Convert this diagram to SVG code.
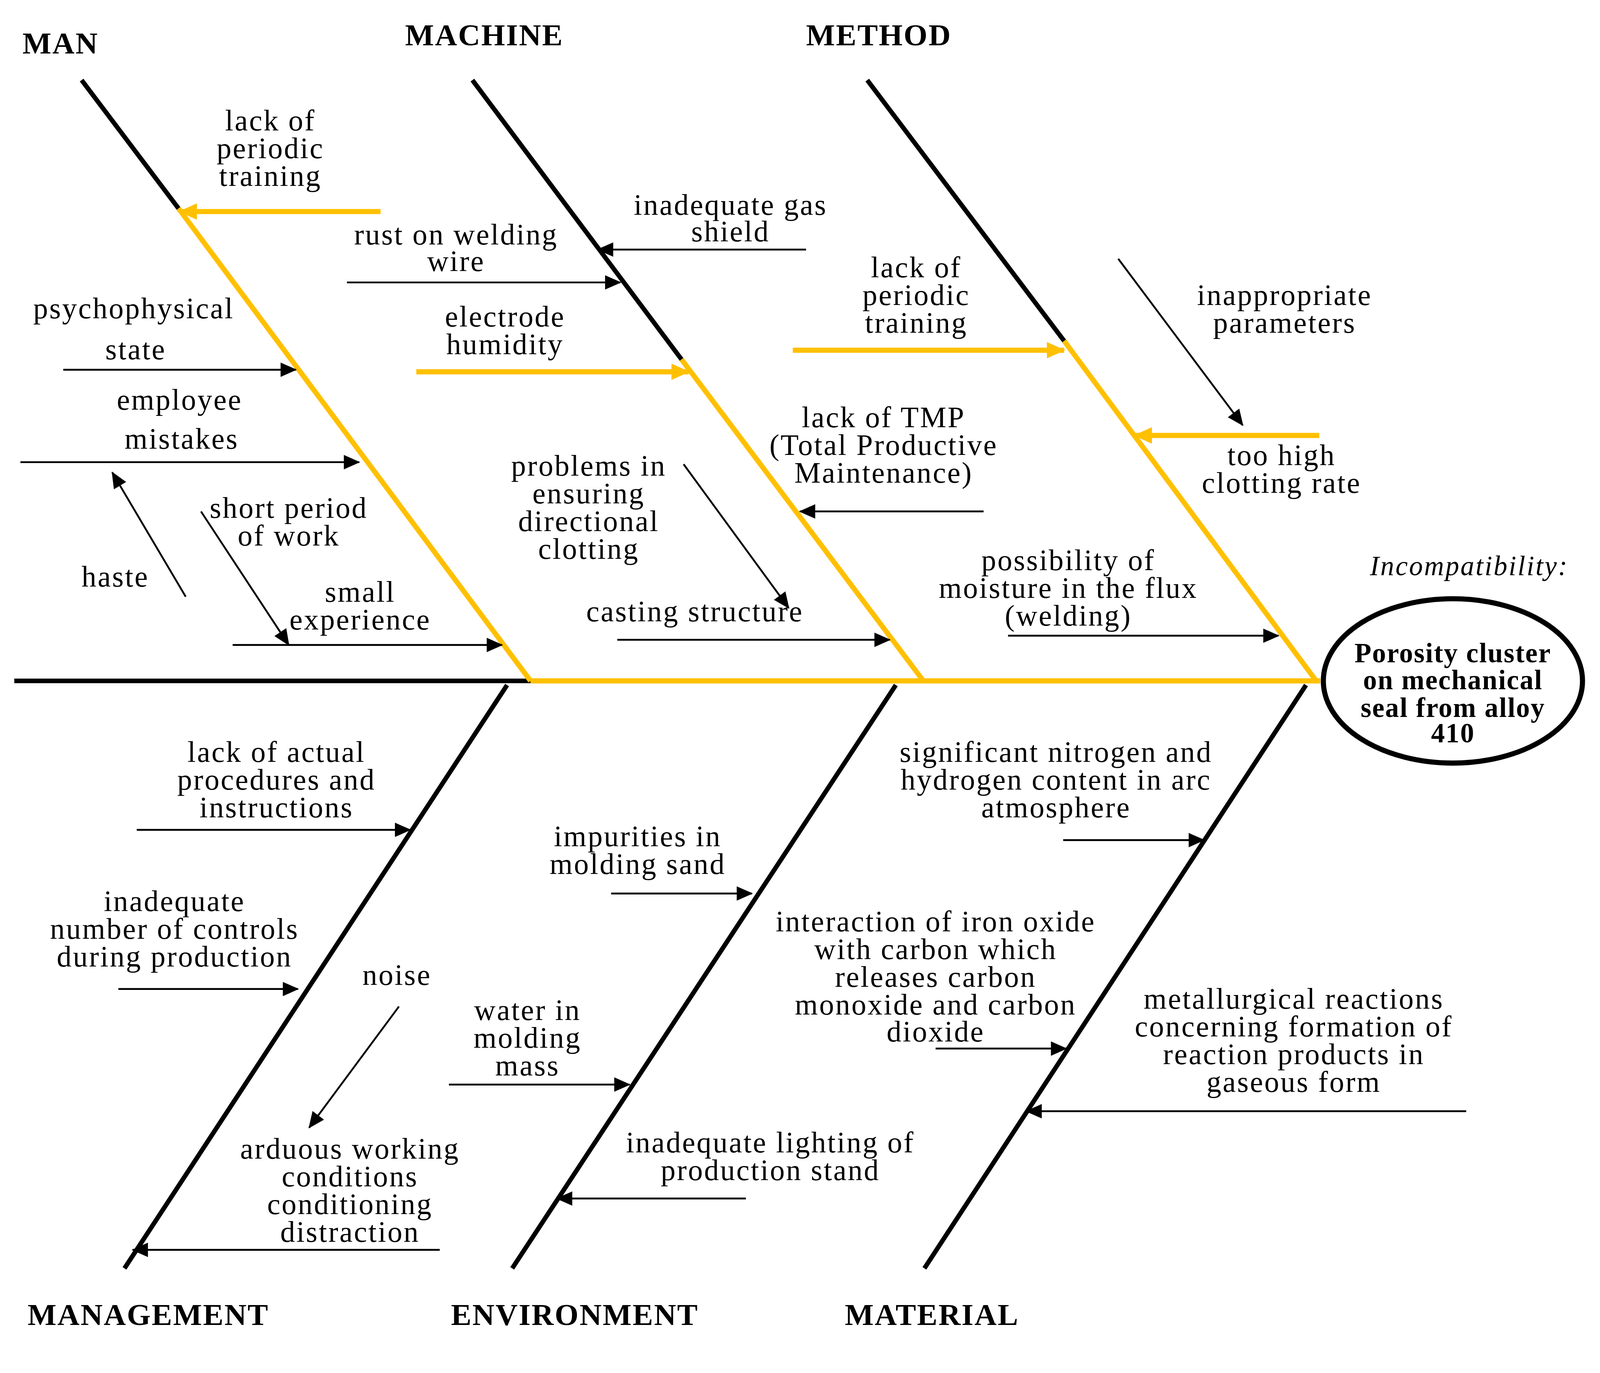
<svg xmlns="http://www.w3.org/2000/svg" width="4205" height="3516" viewBox="0 0 4205 3516">
<style>
text{font-family:"Liberation Serif","Times New Roman",serif;font-size:29px;letter-spacing:1.3px;fill:#000;text-anchor:middle}
.t{font-weight:bold;text-anchor:start;font-size:30px;letter-spacing:1px}
.e{font-weight:bold;font-size:27px;letter-spacing:0.8px}
.b{stroke:#000;stroke-width:4.5;fill:none}
.y{stroke:#FFC000;stroke-width:5;fill:none}
.a{stroke:#000;stroke-width:1.8;fill:none;marker-end:url(#ah)}
.ya{stroke:#FFC000;stroke-width:5;fill:none;marker-end:url(#yh)}
</style>
<defs>
<marker id="ah" markerUnits="userSpaceOnUse" markerWidth="16" markerHeight="14" refX="15" refY="7" orient="auto"><path d="M0,0L16,7L0,14z" fill="#000"/></marker>
<marker id="yh" markerUnits="userSpaceOnUse" markerWidth="18" markerHeight="16" refX="17" refY="8" orient="auto"><path d="M0,0L18,8L0,16z" fill="#FFC000"/></marker>
</defs>
<rect width="4205" height="3516" fill="#fff"/>
<g transform="scale(2.612,2.63)">
<g id="spine">
<line class="b" x1="14" y1="663" x2="520" y2="663"/>
<line class="y" x1="520" y1="663" x2="1294" y2="663"/>
</g>
<g id="effect">
<ellipse cx="1424" cy="663" rx="127" ry="80" fill="#fff" stroke="#000" stroke-width="5"/>
<text x="1440" y="560" style="font-style:italic;font-size:27px">Incompatibility:</text>
<text class="e" x="1424" y="645">Porosity cluster</text>
<text class="e" x="1424" y="671">on mechanical</text>
<text class="e" x="1424" y="698">seal from alloy</text>
<text class="e" x="1424" y="723">410</text>
</g>
<g id="connectors">
<line class="b" x1="80" y1="78" x2="175" y2="203"/>
<line class="y" x1="175" y1="203" x2="520" y2="663"/>
<line class="b" x1="463" y1="78" x2="668" y2="350"/>
<line class="y" x1="668" y1="350" x2="905" y2="663"/>
<line class="b" x1="850" y1="78" x2="1043" y2="332"/>
<line class="y" x1="1043" y1="332" x2="1290" y2="663"/>
<line class="b" x1="497" y1="667" x2="122" y2="1235"/>
<line class="b" x1="878" y1="667" x2="502" y2="1235"/>
<line class="b" x1="1280" y1="667" x2="906" y2="1235"/>
<line class="ya" x1="373" y1="206" x2="176" y2="206"/>
<line class="ya" x1="408" y1="362" x2="675" y2="362"/>
<line class="ya" x1="777" y1="341" x2="1043" y2="341"/>
<line class="ya" x1="1293" y1="424" x2="1112" y2="424"/>
<line class="a" x1="340" y1="275" x2="608" y2="275"/>
<line class="a" x1="790" y1="243" x2="586" y2="243"/>
<line class="a" x1="62" y1="360" x2="290" y2="360"/>
<line class="a" x1="20" y1="450" x2="352" y2="450"/>
<line class="a" x1="182" y1="581" x2="110" y2="460"/>
<line class="a" x1="197" y1="498" x2="283" y2="628"/>
<line class="a" x1="228" y1="628" x2="492" y2="628"/>
<line class="a" x1="670" y1="452" x2="773" y2="592"/>
<line class="a" x1="964" y1="498" x2="784" y2="498"/>
<line class="a" x1="605" y1="623" x2="872" y2="623"/>
<line class="a" x1="1096" y1="252" x2="1218" y2="414"/>
<line class="a" x1="988" y1="619" x2="1253" y2="619"/>
<line class="a" x1="134" y1="808" x2="402" y2="808"/>
<line class="a" x1="116" y1="963" x2="292" y2="963"/>
<line class="a" x1="391" y1="980" x2="303" y2="1098"/>
<line class="a" x1="431" y1="1217" x2="130" y2="1217"/>
<line class="a" x1="599" y1="870" x2="737" y2="870"/>
<line class="a" x1="440" y1="1056" x2="617" y2="1056"/>
<line class="a" x1="731" y1="1167" x2="546" y2="1167"/>
<line class="a" x1="1042" y1="818" x2="1180" y2="818"/>
<line class="a" x1="917" y1="1021" x2="1045" y2="1021"/>
<line class="a" x1="1437" y1="1082" x2="1006" y2="1082"/>
</g>
<g id="man">
<text class="t" x="22" y="52">MAN</text>
<text x="265" y="127">lack of</text><text x="265" y="154">periodic</text><text x="265" y="181">training</text>
<text x="131" y="310">psychophysical</text><text x="133" y="350">state</text>
<text x="176" y="399">employee</text><text x="178" y="437">mistakes</text>
<text x="283" y="504">short period</text><text x="283" y="531">of work</text>
<text x="113" y="571">haste</text>
<text x="353" y="586">small</text><text x="353" y="613">experience</text>
</g>
<g id="machine">
<text class="t" x="397" y="44">MACHINE</text>
<text x="447" y="238">rust on welding</text><text x="447" y="264">wire</text>
<text x="716" y="209">inadequate gas</text><text x="716" y="235">shield</text>
<text x="495" y="318">electrode</text><text x="495" y="345">humidity</text>
<text x="866" y="416">lack of TMP</text><text x="866" y="443">(Total Productive</text><text x="866" y="470">Maintenance)</text>
<text x="577" y="463">problems in</text><text x="577" y="490">ensuring</text><text x="577" y="517">directional</text><text x="577" y="544">clotting</text>
<text x="681" y="605">casting structure</text>
</g>
<g id="method">
<text class="t" x="790" y="44">METHOD</text>
<text x="898" y="270">lack of</text><text x="898" y="297">periodic</text><text x="898" y="324">training</text>
<text x="1259" y="297">inappropriate</text><text x="1259" y="324">parameters</text>
<text x="1256" y="453">too high</text><text x="1256" y="480">clotting rate</text>
<text x="1047" y="555">possibility of</text><text x="1047" y="582">moisture in the flux</text><text x="1047" y="609">(welding)</text>
</g>
<g id="management">
<text class="t" x="27" y="1290">MANAGEMENT</text>
<text x="271" y="742">lack of actual</text><text x="271" y="769">procedures and</text><text x="271" y="796">instructions</text>
<text x="171" y="887">inadequate</text><text x="171" y="914">number of controls</text><text x="171" y="941">during production</text>
<text x="389" y="959">noise</text>
<text x="343" y="1128">arduous working</text><text x="343" y="1155">conditions</text><text x="343" y="1182">conditioning</text><text x="343" y="1209">distraction</text>
</g>
<g id="environment">
<text class="t" x="442" y="1290">ENVIRONMENT</text>
<text x="625" y="824">impurities in</text><text x="625" y="851">molding sand</text>
<text x="517" y="993">water in</text><text x="517" y="1020">molding</text><text x="517" y="1047">mass</text>
<text x="755" y="1122">inadequate lighting of</text><text x="755" y="1149">production stand</text>
</g>
<g id="material">
<text class="t" x="828" y="1290">MATERIAL</text>
<text x="1035" y="742">significant nitrogen and</text><text x="1035" y="769">hydrogen content in arc</text><text x="1035" y="796">atmosphere</text>
<text x="917" y="907">interaction of iron oxide</text><text x="917" y="934">with carbon which</text><text x="917" y="961">releases carbon</text><text x="917" y="988">monoxide and carbon</text><text x="917" y="1014">dioxide</text>
<text x="1268" y="982">metallurgical reactions</text><text x="1268" y="1009">concerning formation of</text><text x="1268" y="1036">reaction products in</text><text x="1268" y="1063">gaseous form</text>
</g>
</g>
</svg>
